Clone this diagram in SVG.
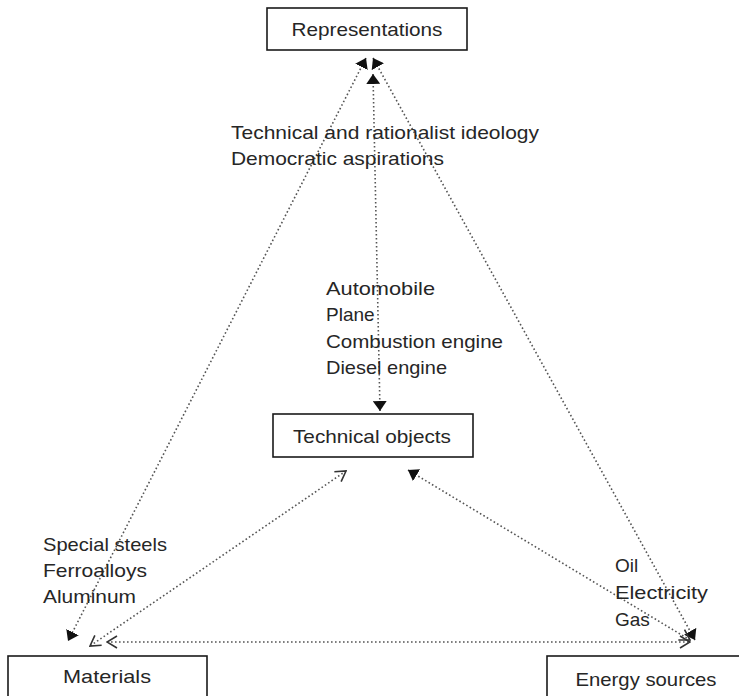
<svg xmlns="http://www.w3.org/2000/svg" width="739" height="696" viewBox="0 0 739 696">
  <style>
    .box { fill: #ffffff; stroke: #1a1a1a; stroke-width: 1.6; }
    .lbl { font-family: "Liberation Sans", Arial, sans-serif; font-size: 19px; fill: #262626; }
    .mid { text-anchor: middle; }
    .link { fill: none; stroke: #555555; stroke-width: 1.6; stroke-dasharray: 1.6 2.4; }
  </style>
  <defs>
    <marker id="solid" viewBox="0 0 10 14" refX="10" refY="7" markerWidth="10" markerHeight="14" markerUnits="userSpaceOnUse" orient="auto">
      <path d="M0,0 L10,7 L0,14 Z" fill="#111111"/>
    </marker>
    <marker id="solidStart" viewBox="0 0 10 14" refX="0" refY="7" markerWidth="10" markerHeight="14" markerUnits="userSpaceOnUse" orient="auto">
      <path d="M10,0 L0,7 L10,14 Z" fill="#111111"/>
    </marker>
    <marker id="open" viewBox="0 0 12 14" refX="11" refY="7" markerWidth="12" markerHeight="14" markerUnits="userSpaceOnUse" orient="auto">
      <path d="M1,1 L11,7 L1,13" fill="none" stroke="#333333" stroke-width="1.6"/>
    </marker>
    <marker id="openStart" viewBox="0 0 12 14" refX="1" refY="7" markerWidth="12" markerHeight="14" markerUnits="userSpaceOnUse" orient="auto">
      <path d="M11,1 L1,7 L11,13" fill="none" stroke="#333333" stroke-width="1.6"/>
    </marker>
  </defs>

  <!-- connectors -->
  <g id="connectors">
    <!-- Representations to Materials -->
    <line class="link" x1="366" y1="58" x2="68" y2="641" marker-start="url(#solidStart)" marker-end="url(#solid)"/>
    <!-- Representations to Energy sources -->
    <line class="link" x1="373" y1="58" x2="695" y2="640" marker-start="url(#solidStart)" marker-end="url(#solid)"/>
    <!-- Representations to Technical objects -->
    <line class="link" x1="373" y1="74" x2="380" y2="411" marker-start="url(#solidStart)" marker-end="url(#solid)"/>
    <!-- Technical objects to Materials -->
    <line class="link" x1="346" y1="471" x2="90" y2="646" marker-start="url(#openStart)" marker-end="url(#open)"/>
    <!-- Technical objects to Energy sources -->
    <line class="link" x1="408" y1="470" x2="690" y2="640" marker-start="url(#solidStart)" marker-end="url(#open)"/>
    <!-- Materials to Energy sources -->
    <line class="link" x1="107" y1="642" x2="690" y2="642" marker-start="url(#openStart)" marker-end="url(#open)"/>
  </g>

  <g id="representations">
    <rect class="box" x="267" y="8" width="200" height="42"/>
    <text class="lbl mid" x="367" y="36" textLength="151" lengthAdjust="spacingAndGlyphs">Representations</text>
  </g>

  <g id="technical-objects">
    <rect class="box" x="273" y="414" width="200" height="43"/>
    <text class="lbl mid" x="372" y="443" textLength="158" lengthAdjust="spacingAndGlyphs">Technical objects</text>
  </g>

  <g id="materials">
    <rect class="box" x="8" y="656" width="199" height="50"/>
    <text class="lbl mid" x="107" y="683" textLength="88" lengthAdjust="spacingAndGlyphs">Materials</text>
  </g>

  <g id="energy-sources">
    <rect class="box" x="547" y="656" width="200" height="50"/>
    <text class="lbl mid" x="646" y="686" textLength="141" lengthAdjust="spacingAndGlyphs">Energy sources</text>
  </g>

  <g id="labels">
    <text class="lbl" x="231" y="139" textLength="308" lengthAdjust="spacingAndGlyphs">Technical and rationalist ideology</text>
    <text class="lbl" x="231" y="165" textLength="213" lengthAdjust="spacingAndGlyphs">Democratic aspirations</text>

    <text class="lbl" x="326" y="295" textLength="109" lengthAdjust="spacingAndGlyphs">Automobile</text>
    <text class="lbl" x="326" y="321">Plane</text>
    <text class="lbl" x="326" y="348" textLength="177" lengthAdjust="spacingAndGlyphs">Combustion engine</text>
    <text class="lbl" x="326" y="374" textLength="121" lengthAdjust="spacingAndGlyphs">Diesel engine</text>

    <text class="lbl" x="43" y="551" textLength="124" lengthAdjust="spacingAndGlyphs">Special steels</text>
    <text class="lbl" x="43" y="577" textLength="104" lengthAdjust="spacingAndGlyphs">Ferroalloys</text>
    <text class="lbl" x="43" y="603" textLength="93" lengthAdjust="spacingAndGlyphs">Aluminum</text>

    <text class="lbl" x="615" y="572">Oil</text>
    <text class="lbl" x="615" y="599" textLength="93" lengthAdjust="spacingAndGlyphs">Electricity</text>
    <text class="lbl" x="615" y="626">Gas</text>
  </g>
</svg>
